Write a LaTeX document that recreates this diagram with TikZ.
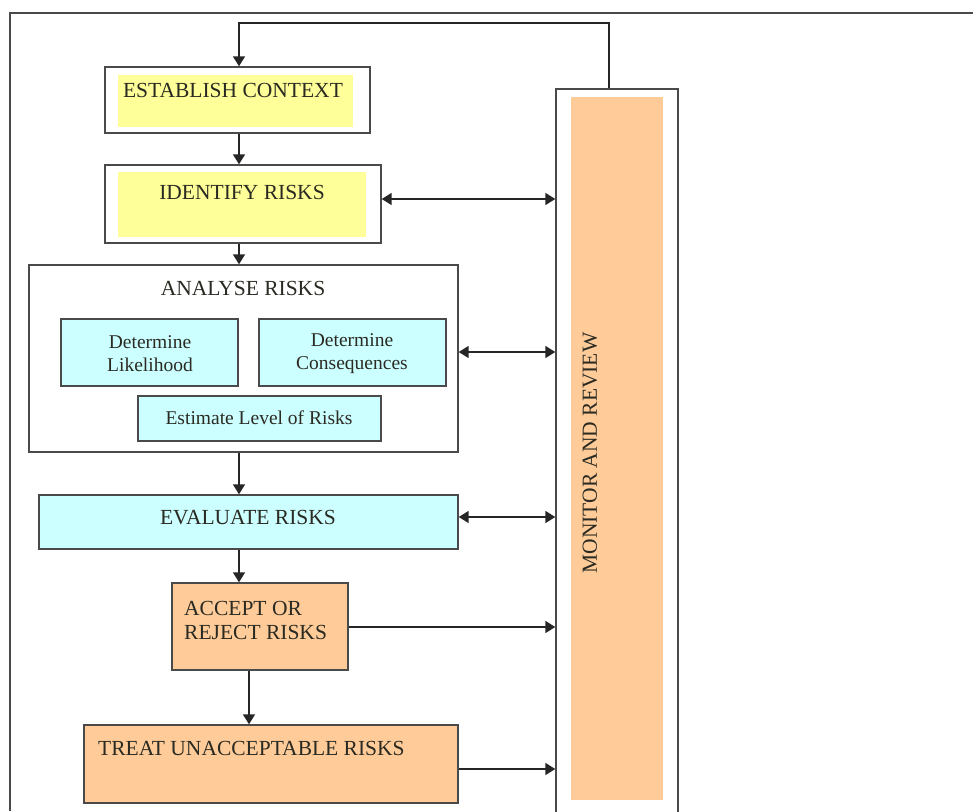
\documentclass[tikz,border=0pt]{standalone}
\usepackage{fontspec}
\setmainfont{Liberation Serif}
\usetikzlibrary{arrows.meta,calc}
\definecolor{ylw}{HTML}{FFFF99}
\definecolor{cyn}{HTML}{CCFFFF}
\definecolor{org}{HTML}{FFCC99}
\definecolor{edge}{HTML}{4A4A4A}
\definecolor{ink}{HTML}{2A2A22}
\tikzset{
  box/.style={draw=edge, line width=1.4pt, rectangle, inner sep=0pt},
  big/.style={text=ink, inner sep=0pt, font=\fontsize{21.5}{24}\selectfont},
  small/.style={text=ink, inner sep=0pt, align=center, font=\fontsize{19.5}{23}\selectfont},
  arr/.style={draw=black!85, line width=1.5pt, -{Triangle[length=10pt,width=12pt]}},
  darr/.style={draw=black!85, line width=1.5pt, {Triangle[length=10pt,width=12pt]}-{Triangle[length=10pt,width=12pt]}},
}
\begin{document}
\begin{tikzpicture}[x=1pt,y=-1pt]
\useasboundingbox (0,0) rectangle (973,811);
\fill[white] (0,0) rectangle (973,811);
% outer frame
\draw[edge, line width=1.4pt] (10,811) -- (10,13) -- (973,13);
% monitor and review
\node[box, minimum width=122pt, minimum height=726pt] (mon) at (617,452) {};
\fill[org] (571,97) rectangle (663,800);
\node[big, rotate=90] (montxt) at (590,453) {MONITOR AND REVIEW};
% establish context
\node[box, minimum width=265pt, minimum height=66pt] (est) at (237.5,100) {};
\fill[ylw] (118,75) rectangle (353,127);
\node[big] (esttxt) at (233,90) {ESTABLISH CONTEXT};
% identify risks
\node[box, minimum width=276pt, minimum height=78pt] (ident) at (243,204) {};
\fill[ylw] (118,172) rectangle (366,237);
\node[big] (identtxt) at (242,192) {IDENTIFY RISKS};
% analyse risks
\node[box, minimum width=429pt, minimum height=187pt] (ana) at (243.5,358.5) {};
\node[big] (anatxt) at (243,288) {ANALYSE RISKS};
\node[box, fill=cyn, minimum width=177pt, minimum height=67pt] (lik) at (149.5,352.5) {};
\node[small] (liktxt) at (150,354) {Determine\\Likelihood};
\node[box, fill=cyn, minimum width=187pt, minimum height=67pt] (con) at (352.5,352.5) {};
\node[small] (contxt) at (352,354) {Determine\\Consequences};
\node[box, fill=cyn, minimum width=243pt, minimum height=45pt] (est2) at (259.5,418.5) {};
\node[small] (est2txt) at (259,418) {Estimate Level of Risks};
% evaluate
\node[box, fill=cyn, minimum width=419pt, minimum height=54pt] (eval) at (248.5,522) {};
\node[big] (evaltxt) at (248,518) {EVALUATE RISKS};
% accept
\node[box, fill=org, minimum width=176pt, minimum height=87pt] (acc) at (260,626.5) {};
\node[big, align=left, anchor=west] (acctxt) at (184,620) {ACCEPT OR\\REJECT RISKS};
% treat
\node[box, fill=org, minimum width=374pt, minimum height=78pt] (treat) at (271,764) {};
\node[big, anchor=west] (treattxt) at (98,748) {TREAT UNACCEPTABLE RISKS};
% spine
\coordinate (spine) at (239,0);
\coordinate (spine2) at (249,0);
\coordinate (fbtop) at (609,23);
% vertical flow
\draw[arr] ([xshift=-8pt]mon.north) -- (fbtop) -| (spine |- est.north);
\draw[arr] (spine |- est.south) -- (spine |- ident.north);
\draw[arr] (spine |- ident.south) -- (spine |- ana.north);
\draw[arr] (spine |- ana.south) -- (spine |- eval.north);
\draw[arr] (spine |- eval.south) -- (spine |- acc.north);
\draw[arr] (spine2 |- acc.south) -- (spine2 |- treat.north);
% links to monitor
\draw[darr] ([yshift=5pt]ident.east) -- ([yshift=5pt]ident.east -| mon.west);
\draw[darr] ([yshift=6.5pt]ana.east) -- ([yshift=6.5pt]ana.east -| mon.west);
\draw[darr] ([yshift=5pt]eval.east) -- ([yshift=5pt]eval.east -| mon.west);
\draw[arr] ([yshift=-0.5pt]acc.east) -- ([yshift=-0.5pt]acc.east -| mon.west);
\draw[arr] ([yshift=-5pt]treat.east) -- ([yshift=-5pt]treat.east -| mon.west);
\end{tikzpicture}
\end{document}
